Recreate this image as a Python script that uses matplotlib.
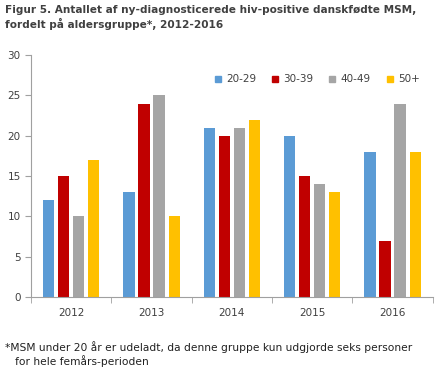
import matplotlib
matplotlib.use("Agg")
import matplotlib.pyplot as plt
import numpy as np
from matplotlib.lines import Line2D

years = ["2012", "2013", "2014", "2015", "2016"]
series_names = ["20-29", "30-39", "40-49", "50+"]
v_20_29 = [12, 13, 21, 20, 18]
v_30_39 = [15, 24, 20, 15, 7]
v_40_49 = [10, 25, 21, 14, 24]
v_50p = [17, 10, 22, 13, 18]
colors = ["#5B9BD5", "#C00000", "#A5A5A5", "#FFC000"]

title = "Figur 5. Antallet af ny-diagnosticerede hiv-positive danskfødte MSM,\nfordelt på aldersgruppe*, 2012-2016"
footnote = "*MSM under 20 år er udeladt, da denne gruppe kun udgjorde seks personer\n   for hele femårs-perioden"

plt.rcParams['font.family'] = ['DejaVu Sans']
fig = plt.figure(figsize=(4.4, 3.7), dpi=100)
ax = fig.add_axes([0.0705, 0.197, 0.913, 0.654])

x = np.arange(len(years))
w = 0.14
step = 0.1875
data = [v_20_29, v_30_39, v_40_49, v_50p]
for i, (vals, c, n) in enumerate(zip(data, colors, series_names)):
    ax.bar(x + (i - 1.5) * step, vals, width=w, color=c, label=n)

ax.set_xlim(-0.5, len(years) - 0.5)
ax.set_ylim(0, 30)
ax.set_yticks(range(0, 31, 5))
ax.set_xticks(x)
ax.set_xticklabels(years)
ax.set_xticks(np.arange(-0.5, len(years), 1.0), minor=True)
ax.tick_params(axis='x', which='major', length=0, labelsize=7.5, colors='#404040', pad=8)
ax.tick_params(axis='x', which='minor', length=4, color='#A0A0A0', direction='out')
ax.tick_params(axis='y', length=4, color='#A0A0A0', labelsize=7.5, labelcolor='#404040', direction='out')
for s in ['top', 'right']:
    ax.spines[s].set_visible(False)
for s in ['left', 'bottom']:
    ax.spines[s].set_color('#A0A0A0')
    ax.spines[s].set_linewidth(0.8)

handles = [Line2D([0], [0], marker='s', linestyle='', markersize=5, markerfacecolor=c,
                  markeredgecolor=c) for c in colors]
ax.legend(handles, series_names, ncol=4, frameon=False, fontsize=7.5,
          loc='center', bbox_to_anchor=(0.71, 0.90), handletextpad=0.3,
          columnspacing=1.3, handlelength=1.0, labelcolor='#404040')

fig.text(0.012, 0.986, title, ha='left', va='top', fontsize=7.6, fontweight='bold',
         color='#404040', linespacing=1.3)
fig.text(0.012, 0.078, footnote, ha='left', va='top', fontsize=7.7, color='#202020',
         linespacing=1.2)

fig.savefig("out.png", dpi=100)
